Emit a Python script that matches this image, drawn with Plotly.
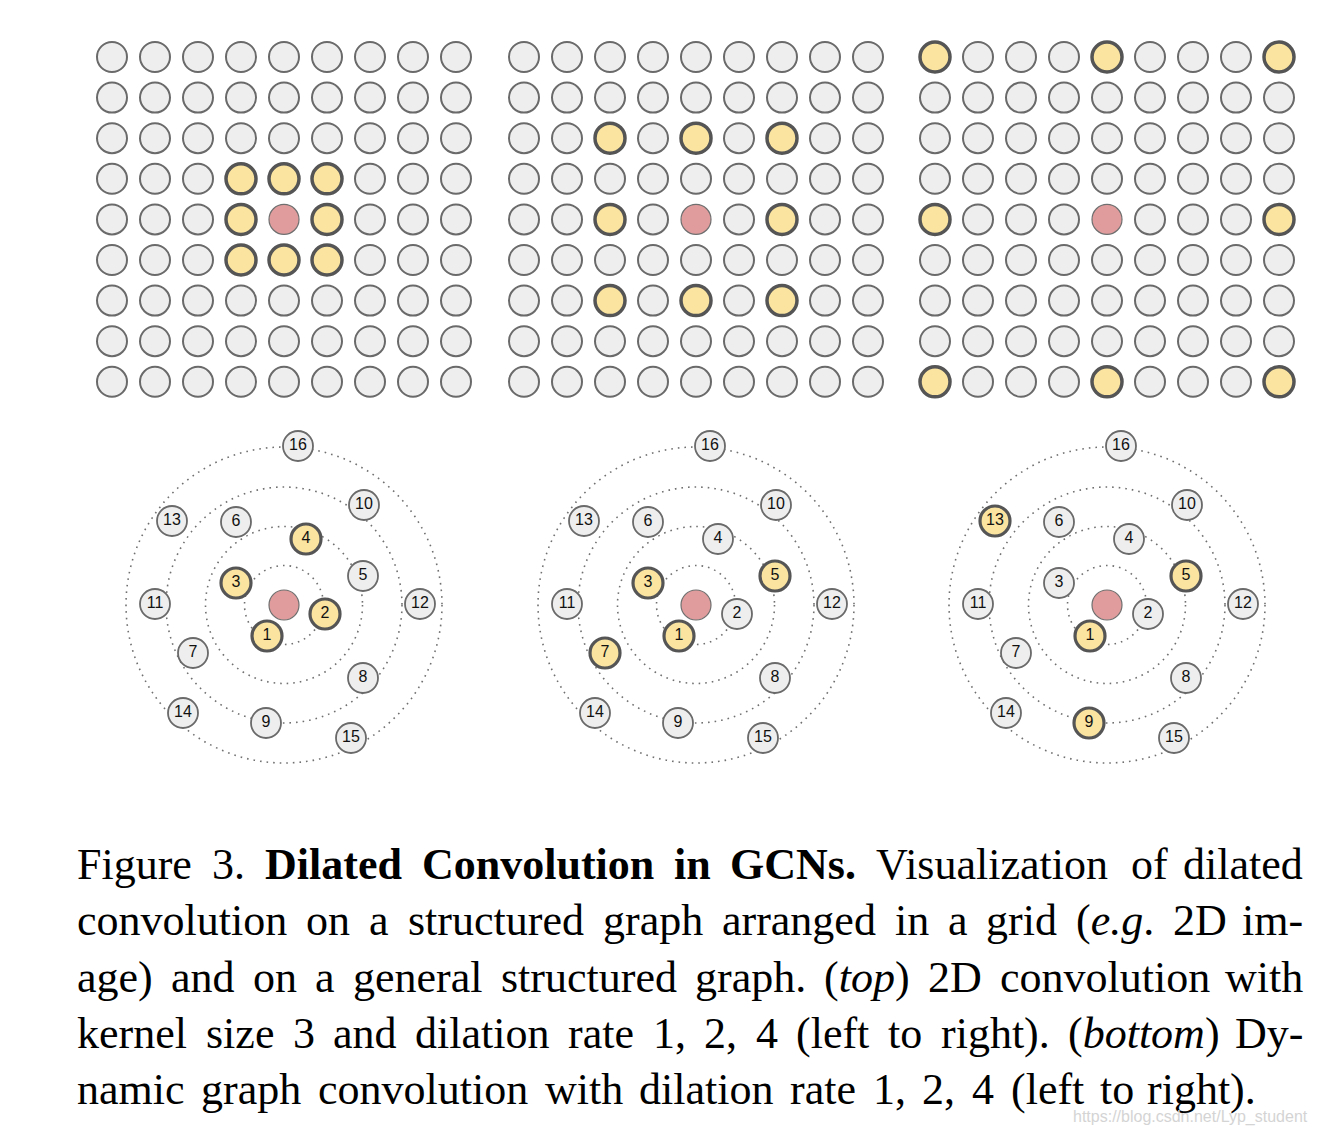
import re
import plotly.graph_objects as go

# ---------------- data ----------------
grid_n = 9
grid_dilations = [1, 2, 4]
grid_center = (4, 4)

node_labels = [str(i) for i in range(1, 17)]
node_dx = [-17, 41, -48, 22, 79, -48, -91, 79, -18, 80, -129, 136, -112, -101, 67, 14]
node_dy = [31, 9, -22, -66, -29, -83, 48, 73, 118, -100, -1, -1, -84, 108, 133, -159]
ring_radii = [39.5, 78.5, 118, 158]
graph_neighbors = [[1, 2, 3, 4], [1, 3, 5, 7], [1, 5, 9, 13]]

caption_words = [
    ["Figure", "3.", "<b>Dilated</b>", "<b>Convolution</b>", "<b>in</b>", "<b>GCNs.</b>",
     "Visualization", "of", "dilated"],
    ["convolution", "on", "a", "structured", "graph", "arranged", "in", "a", "grid",
     "(<i>e.g</i>.", "2D", "im-"],
    ["age)", "and", "on", "a", "general", "structured", "graph.", "(<i>top</i>)", "2D",
     "convolution", "with"],
    ["kernel", "size", "3", "and", "dilation", "rate", "1,", "2,", "4", "(left", "to", "right).",
     "(<i>bottom</i>)", "Dy-"],
    ["namic", "graph", "convolution", "with", "dilation", "rate", "1,", "2,", "4", "(left", "to",
     "right)."],
]
watermark = "https://blog.csdn.net/Lyp_student"

# ---------------- page geometry / styles ----------------
OFF = 8                      # default body margin of the html page
W, H = 1320 - 2 * OFF, 1136 - 2 * OFF
GRAY_FILL, GRAY_LINE = "#eeeeee", "#6a6a6a"
YEL_FILL, YEL_LINE = "#fae4a0", "#555555"
RED_FILL, RED_LINE = "#e09c9c", "#6f6f6f"

panel_x0 = [112, 524, 935]        # screen pixel of grid column 0 in each panel
col_step, row_step = 43, 40.6
row0 = 57
graph_cy = 605
graph_half = 180


def px_x(p):
    return (p - OFF) / W


def px_y(p):
    return 1 - (p - OFF) / H


fig = go.Figure()
layout_axes = {}

for k, d in enumerate(grid_dilations):
    ax = k + 1
    xs = "x" if ax == 1 else f"x{ax}"
    ys = "y" if ax == 1 else f"y{ax}"
    cr, cc = grid_center
    nb = {(cr + i * d, cc + j * d) for i in (-1, 0, 1) for j in (-1, 0, 1)} - {grid_center}
    gx, gy, yx, yy = [], [], [], []
    for r in range(grid_n):
        for c in range(grid_n):
            if (r, c) == grid_center:
                continue
            if (r, c) in nb:
                yx.append(c); yy.append(r)
            else:
                gx.append(c); gy.append(r)
    fig.add_trace(go.Scatter(x=gx, y=gy, mode="markers", xaxis=xs, yaxis=ys,
                             marker=dict(size=30, color=GRAY_FILL, line=dict(color=GRAY_LINE, width=2)),
                             hoverinfo="skip", showlegend=False))
    fig.add_trace(go.Scatter(x=yx, y=yy, mode="markers", xaxis=xs, yaxis=ys,
                             marker=dict(size=30, color=YEL_FILL, line=dict(color=YEL_LINE, width=3.5)),
                             hoverinfo="skip", showlegend=False))
    fig.add_trace(go.Scatter(x=[cc], y=[cr], mode="markers", xaxis=xs, yaxis=ys,
                             marker=dict(size=30, color=RED_FILL, line=dict(color=RED_LINE, width=1.2)),
                             hoverinfo="skip", showlegend=False))
    x0 = panel_x0[k] - col_step / 2
    x1 = panel_x0[k] + (grid_n - 0.5) * col_step
    y0 = row0 - row_step / 2
    y1 = row0 + (grid_n - 0.5) * row_step
    key = "" if ax == 1 else str(ax)
    layout_axes["xaxis" + key] = dict(domain=[px_x(x0), px_x(x1)], range=[-0.5, grid_n - 0.5],
                                      visible=False, fixedrange=True)
    layout_axes["yaxis" + key] = dict(domain=[px_y(y1), px_y(y0)], range=[grid_n - 0.5, -0.5],
                                      visible=False, fixedrange=True)

label_font = dict(family="Liberation Sans, Arial", size=16, color="#111")
for k, sel in enumerate(graph_neighbors):
    ax = k + 4
    xs, ys = f"x{ax}", f"y{ax}"
    cx = panel_x0[k] + grid_center[1] * col_step
    for r in ring_radii:
        fig.add_shape(type="circle", xref=xs, yref=ys, x0=-r, x1=r, y0=-r, y1=r,
                      line=dict(color="#707070", width=1.6, dash="1.6px,5px"), layer="below")
    idx_g = [i for i in range(16) if (i + 1) not in sel]
    idx_y = [i for i in range(16) if (i + 1) in sel]
    fig.add_trace(go.Scatter(x=[0], y=[0], mode="markers", xaxis=xs, yaxis=ys,
                             marker=dict(size=30, color=RED_FILL, line=dict(color=RED_LINE, width=1.2)),
                             hoverinfo="skip", showlegend=False))
    fig.add_trace(go.Scatter(x=[node_dx[i] for i in idx_g], y=[node_dy[i] for i in idx_g],
                             text=[node_labels[i] for i in idx_g], mode="markers+text",
                             xaxis=xs, yaxis=ys, textposition="middle center", textfont=label_font,
                             marker=dict(size=30, color=GRAY_FILL, line=dict(color=GRAY_LINE, width=1.8)),
                             hoverinfo="skip", showlegend=False))
    fig.add_trace(go.Scatter(x=[node_dx[i] for i in idx_y], y=[node_dy[i] for i in idx_y],
                             text=[node_labels[i] for i in idx_y], mode="markers+text",
                             xaxis=xs, yaxis=ys, textposition="middle center", textfont=label_font,
                             marker=dict(size=30, color=YEL_FILL, line=dict(color=YEL_LINE, width=3.2)),
                             hoverinfo="skip", showlegend=False))
    layout_axes[f"xaxis{ax}"] = dict(domain=[px_x(cx - graph_half), px_x(cx + graph_half)],
                                     range=[-graph_half, graph_half], visible=False, fixedrange=True)
    layout_axes[f"yaxis{ax}"] = dict(domain=[px_y(graph_cy + graph_half), px_y(graph_cy - graph_half)],
                                     range=[graph_half, -graph_half], visible=False, fixedrange=True)

# ---------------- justified caption ----------------
REG = {'a': 444, 'b': 500, 'c': 444, 'd': 500, 'e': 444, 'f': 333, 'g': 500, 'h': 500, 'i': 278,
       'j': 278, 'k': 500, 'l': 278, 'm': 778, 'n': 500, 'o': 500, 'p': 500, 'q': 500, 'r': 333,
       's': 389, 't': 278, 'u': 500, 'v': 500, 'w': 722, 'x': 500, 'y': 500, 'z': 444,
       'D': 722, 'F': 556, 'V': 722, '(': 333, ')': 333, '-': 333, ',': 250, '.': 250}
BOLD = {'D': 722, 'i': 278, 'l': 278, 'a': 500, 't': 333, 'e': 444, 'd': 556, 'C': 722, 'o': 500,
        'n': 556, 'v': 500, 'u': 556, 'G': 778, 'N': 722, 's': 389, '.': 250}
ITAL = {'e': 444, 'g': 500, '.': 250, 't': 278, 'o': 500, 'p': 500, 'b': 500, 'm': 722}
MET = {'r': REG, 'b': BOLD, 'i': ITAL}


def text_width(html, size):
    w, style = 0, 'r'
    for tok in re.split(r'(</?[bi]>)', html):
        if tok == '<b>':
            style = 'b'
        elif tok == '<i>':
            style = 'i'
        elif tok in ('</b>', '</i>'):
            style = 'r'
        else:
            for ch in tok:
                w += MET[style].get(ch, 500)
    return w * size / 1000.0


CAP_SIZE = 44
cap_font = dict(family="Liberation Serif, Times New Roman", size=CAP_SIZE, color="#000")
cap_left = 75
cap_right = [1305, 1305, 1305, 1305, 1258]
baselines = [882, 938.25, 994.5, 1050.75, 1107]
annotations = []
for words, base, right in zip(caption_words, baselines, cap_right):
    widths = [text_width(w, CAP_SIZE) for w in words]
    gap = (right - cap_left - sum(widths)) / (len(words) - 1)
    x = cap_left
    yc = base - 17.4
    for j, (w, ww) in enumerate(zip(words, widths)):
        if j == len(words) - 1:
            annotations.append(dict(text=w, x=px_x(right), y=px_y(yc), xref="paper", yref="paper",
                                    xanchor="right", yanchor="middle", showarrow=False, font=cap_font))
        else:
            annotations.append(dict(text=w, x=px_x(x), y=px_y(yc), xref="paper", yref="paper",
                                    xanchor="left", yanchor="middle", showarrow=False, font=cap_font))
        x += ww + gap

annotations.append(dict(text=watermark, x=px_x(1310), y=px_y(1117), xref="paper", yref="paper",
                        xanchor="right", yanchor="middle", showarrow=False,
                        font=dict(family="Liberation Sans, Arial", size=16, color="#d4d4d4")))

fig.update_layout(width=W, height=H, margin=dict(l=0, r=0, t=0, b=0),
                  paper_bgcolor="white", plot_bgcolor="rgba(0,0,0,0)",
                  annotations=annotations, **layout_axes)

fig.write_html("out.html")
